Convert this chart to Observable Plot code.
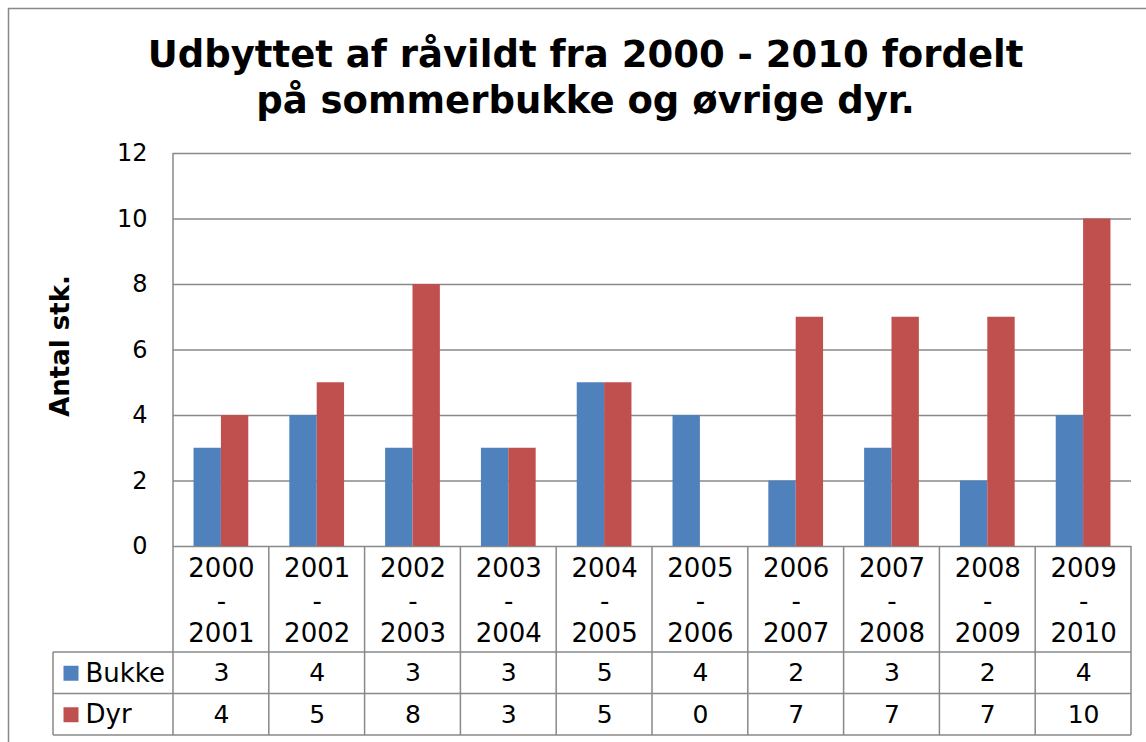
<!DOCTYPE html>
<html>
<head>
<meta charset="utf-8">
<script src="https://cdn.jsdelivr.net/npm/d3@7"></script>
<script src="https://cdn.jsdelivr.net/npm/@observablehq/plot@0.6"></script>
<style>
  html, body { margin: 0; padding: 0; background: #fff; }
  svg { display: block; }
</style>
</head>
<body>
<div id="chart"></div>
<script>
// ---- data ----
const categories = ["2000\n-\n2001", "2001\n-\n2002", "2002\n-\n2003", "2003\n-\n2004", "2004\n-\n2005",
                    "2005\n-\n2006", "2006\n-\n2007", "2007\n-\n2008", "2008\n-\n2009", "2009\n-\n2010"];
const seriesNames = ["Bukke", "Dyr"];
const seriesColors = ["#4F81BD", "#C0504D"];
const bukke = [3, 4, 3, 3, 5, 4, 2, 3, 2, 4];
const dyr = [4, 5, 8, 3, 5, 0, 7, 7, 7, 10];
const yTicks = [0, 2, 4, 6, 8, 10, 12];
const titleText = "Udbyttet af råvildt fra 2000 - 2010 fordelt\npå sommerbukke og øvrige dyr.";
const yLabel = "Antal stk.";

// ---- layout ----
const W = 1146, H = 742;
const mTop = 153, mBottom = 196, mLeft = 173, mRight = 15;
const step = (W - mLeft - mRight) / categories.length;
const barW = step / 3.5;
const halfGap = barW * 0.75;
const headerH = 106, rowH = 41.5;
const legendLeft = 53;
const gridColor = "#898989";
const font = "DejaVu Sans, Verdana, sans-serif";

const bukkeRows = categories.map((c, i) => ({cat: c, value: bukke[i]}));
const dyrRows = categories.map((c, i) => ({cat: c, value: dyr[i]}));

function tableGrid(index, scales, values, dims) {
  const {width, height, marginLeft, marginRight, marginTop, marginBottom} = dims;
  const xl = marginLeft, xr = width - marginRight, yb = height - marginBottom;
  const g = d3.create("svg:g")
    .attr("stroke", gridColor).attr("stroke-width", 1.5).attr("fill", "none");
  // outer chart border
  g.append("rect").attr("x", 8.5).attr("y", 8.5)
    .attr("width", width + 20).attr("height", height + 20);
  // value axis line
  g.append("line").attr("x1", xl).attr("x2", xl).attr("y1", marginTop).attr("y2", yb);
  // vertical lines of the table
  const edges = categories.map(c => scales.x(c)).concat([xr]);
  for (const ex of edges) {
    g.append("line").attr("x1", ex).attr("x2", ex).attr("y1", yb).attr("y2", yb + headerH + 2 * rowH);
  }
  // legend column left line
  g.append("line").attr("x1", legendLeft).attr("x2", legendLeft)
    .attr("y1", yb + headerH).attr("y2", yb + headerH + 2 * rowH);
  // horizontal lines of the table
  for (let k = 0; k <= 2; k++) {
    const yy = yb + headerH + k * rowH;
    g.append("line").attr("x1", legendLeft).attr("x2", xr).attr("y1", yy).attr("y2", yy);
  }
  return g.node();
}

const chart = Plot.plot({
  width: W,
  height: H,
  marginTop: mTop,
  marginBottom: mBottom,
  marginLeft: mLeft,
  marginRight: mRight,
  style: {fontFamily: font, fontSize: "24px", color: "#000", background: "#fff", overflow: "visible"},
  x: {domain: categories, padding: 0, round: false, axis: null},
  y: {domain: [0, 12], ticks: yTicks, tickSize: 0, tickPadding: 26, label: null},
  marks: [
    Plot.ruleY(yTicks, {stroke: gridColor, strokeWidth: 1.5}),
    Plot.barY(bukkeRows, {x: "cat", y: "value", fill: seriesColors[0], insetLeft: halfGap, insetRight: step - halfGap - barW}),
    Plot.barY(dyrRows, {x: "cat", y: "value", fill: seriesColors[1], insetLeft: halfGap + barW, insetRight: halfGap}),
    tableGrid,
    // category labels in the data table
    Plot.text(categories, {x: d => d, text: d => d, frameAnchor: "bottom", lineAnchor: "middle",
      dy: headerH / 2, fontSize: 26, lineHeight: 1.25, fill: "#000"}),
    // series values in the data table
    Plot.text(bukkeRows, {x: "cat", text: d => String(d.value), frameAnchor: "bottom", lineAnchor: "middle",
      dy: headerH + rowH / 2, fontSize: 25, fill: "#000"}),
    Plot.text(dyrRows, {x: "cat", text: d => String(d.value), frameAnchor: "bottom", lineAnchor: "middle",
      dy: headerH + rowH * 1.5, fontSize: 25, fill: "#000"}),
    // legend keys
    Plot.dot([seriesNames[0]], {frameAnchor: "bottom-left", dx: 70.5 - mLeft, dy: headerH + rowH / 2,
      symbol: "square", r: 8.46, fill: seriesColors[0], stroke: "none"}),
    Plot.dot([seriesNames[1]], {frameAnchor: "bottom-left", dx: 70.5 - mLeft, dy: headerH + rowH * 1.5,
      symbol: "square", r: 8.46, fill: seriesColors[1], stroke: "none"}),
    Plot.text([seriesNames[0]], {frameAnchor: "bottom-left", dx: 85 - mLeft, dy: headerH + rowH / 2,
      text: d => d, textAnchor: "start", lineAnchor: "middle", fontSize: 26, fill: "#000"}),
    Plot.text([seriesNames[1]], {frameAnchor: "bottom-left", dx: 85 - mLeft, dy: headerH + rowH * 1.5,
      text: d => d, textAnchor: "start", lineAnchor: "middle", fontSize: 26, fill: "#000"}),
    // axis title
    Plot.text([yLabel], {frameAnchor: "left", dx: 60 - mLeft, dy: -4, rotate: -90, text: d => d,
      textAnchor: "middle", lineAnchor: "middle", fontSize: 26, fontWeight: "bold", fill: "#000"}),
    // chart title
    Plot.text([titleText], {frameAnchor: "top", dx: 585 - (mLeft + W - mRight) / 2, dy: -78, text: d => d,
      lineAnchor: "middle", fontSize: 37, fontWeight: "bold", lineHeight: 1.243, fill: "#000"})
  ]
});
document.getElementById("chart").appendChild(chart);
</script>
</body>
</html>
